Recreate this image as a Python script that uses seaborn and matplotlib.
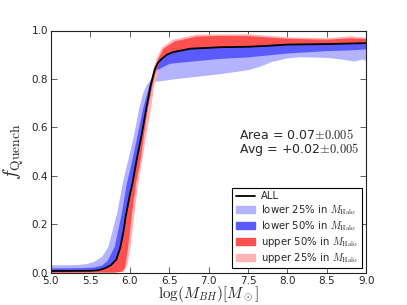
import numpy as np
import pandas as pd
import seaborn as sns
import matplotlib
matplotlib.use('Agg')
import matplotlib.pyplot as plt
from matplotlib.patches import Patch
from matplotlib.lines import Line2D

# ALL sample (black line)
all_x = [5.0, 5.5, 5.6, 5.69, 5.76, 5.83, 5.88, 5.92, 5.95, 6.0, 6.035, 6.09, 6.15, 6.21,
         6.266, 6.32, 6.36, 6.405, 6.47, 6.55, 6.77, 7.15, 7.5, 7.75, 8.0, 8.5, 9.0]
all_y = [0.008, 0.009, 0.011, 0.02, 0.032, 0.055, 0.105, 0.17, 0.235, 0.32, 0.37, 0.47, 0.568, 0.678,
         0.774, 0.842, 0.868, 0.883, 0.9, 0.911, 0.925, 0.931, 0.933, 0.937, 0.942, 0.944, 0.948]

# lower 25% in M_Halo (light blue band): upper/left edge, lower/right edge
lo25_top_x = [5.0, 5.3, 5.45, 5.55, 5.65, 5.73, 5.84, 5.92, 6.0, 6.055, 6.12, 6.17, 6.215, 6.3, 6.36,
              6.42, 6.55, 6.77, 7.15, 7.5, 8.0, 8.5, 9.0]
lo25_top_y = [0.032, 0.032, 0.036, 0.046, 0.066, 0.108, 0.246, 0.383, 0.49, 0.568, 0.678, 0.74, 0.774, 0.81, 0.85,
              0.886, 0.911, 0.925, 0.931, 0.933, 0.942, 0.944, 0.948]
lo25_bot_x = [5.0, 5.6, 5.7, 5.8, 5.88, 5.95, 6.035, 6.15, 6.22, 6.3, 6.6, 7.15, 7.5, 7.65,
              7.8, 8.0, 8.16, 8.5, 8.7, 8.85, 8.95, 9.0]
lo25_bot_y = [0.012, 0.012, 0.018, 0.045, 0.1, 0.23, 0.365, 0.56, 0.7, 0.787, 0.8, 0.82, 0.836, 0.85,
              0.87, 0.885, 0.89, 0.887, 0.88, 0.872, 0.88, 0.875]

# lower 50% in M_Halo (blue band)
lo50_top_x = [5.0, 5.4, 5.55, 5.65, 5.72, 5.81, 5.9, 5.965, 6.03, 6.1, 6.17, 6.25, 6.3, 6.36, 6.405,
              6.47, 6.55, 6.77, 7.15, 7.5, 7.75, 8.0, 8.5, 9.0]
lo50_top_y = [0.019, 0.02, 0.023, 0.031, 0.05, 0.108, 0.246, 0.37, 0.46, 0.568, 0.678, 0.774, 0.83, 0.868, 0.883,
              0.9, 0.911, 0.925, 0.931, 0.933, 0.937, 0.942, 0.944, 0.948]
lo50_bot_x = [5.0, 5.6, 5.7, 5.8, 5.88, 5.95, 6.035, 6.15, 6.21, 6.266, 6.3, 6.34, 6.51, 7.15, 7.5,
              7.75, 8.0, 8.5, 8.8, 9.0]
lo50_bot_y = [0.005, 0.006, 0.014, 0.038, 0.095, 0.225, 0.36, 0.56, 0.67, 0.768, 0.81, 0.835, 0.863, 0.883, 0.889,
              0.897, 0.905, 0.915, 0.918, 0.922]

# upper 50% in M_Halo (red band)
up50_top_x = [5.0, 5.5, 5.6, 5.69, 5.76, 5.83, 5.88, 5.92, 5.95, 6.0, 6.035, 6.09, 6.15, 6.21, 6.266,
              6.32, 6.36, 6.43, 6.57, 6.85, 7.15, 7.5, 8.0, 8.5, 8.8, 9.0]
up50_top_y = [0.008, 0.009, 0.011, 0.02, 0.032, 0.055, 0.105, 0.17, 0.235, 0.32, 0.37, 0.47, 0.568, 0.678, 0.774,
              0.842, 0.883, 0.925, 0.955, 0.975, 0.978, 0.977, 0.966, 0.962, 0.968, 0.965]
up50_bot_x = [5.0, 5.5, 5.8, 5.9, 5.94, 5.98, 6.03, 6.08, 6.14, 6.18, 6.23, 6.29, 6.33, 6.38, 6.43,
              6.47, 6.55, 6.77, 7.15, 7.5, 7.75, 8.0, 8.5, 9.0]
up50_bot_y = [0.001, 0.002, 0.002, 0.005, 0.02, 0.108, 0.246, 0.37, 0.47, 0.568, 0.678, 0.774, 0.83, 0.87, 0.89,
              0.9, 0.911, 0.925, 0.931, 0.933, 0.937, 0.942, 0.944, 0.948]

# upper 25% in M_Halo (light red band)
up25_top_x = [5.0, 5.6, 5.76, 5.88, 5.95, 6.035, 6.15, 6.266, 6.3, 6.34, 6.41, 6.55, 6.85, 7.5, 8.0,
              8.5, 8.8, 9.0]
up25_top_y = [0.008, 0.011, 0.032, 0.105, 0.235, 0.37, 0.568, 0.774, 0.84, 0.885, 0.93, 0.962, 0.983, 0.985, 0.972,
              0.968, 0.976, 0.97]
up25_bot_x = [5.0, 5.8, 5.92, 5.97, 6.01, 6.06, 6.11, 6.16, 6.21, 6.27, 6.31, 6.36, 6.42, 6.5, 7.0,
              8.0, 9.0]
up25_bot_y = [0.0, 0.0, 0.005, 0.03, 0.108, 0.246, 0.37, 0.47, 0.568, 0.678, 0.774, 0.83, 0.875, 0.9, 0.927,
              0.942, 0.948]

labels = ['ALL',
          r'lower 25% in $M_{\rm Halo}$',
          r'lower 50% in $M_{\rm Halo}$',
          r'upper 50% in $M_{\rm Halo}$',
          r'upper 25% in $M_{\rm Halo}$']
colors = {'lo25': '#b3b3ff', 'lo50': '#5a5aff', 'up50': '#ff5050', 'up25': '#ffb3b3'}

sns.set_style('ticks')
plt.rcParams['font.family'] = ['DejaVu Sans']
plt.rcParams['mathtext.fontset'] = 'cm'
plt.rcParams['xtick.direction'] = 'in'
plt.rcParams['ytick.direction'] = 'in'
plt.rcParams['xtick.top'] = True
plt.rcParams['ytick.right'] = True

fig, ax = plt.subplots(figsize=(4.07, 3.05), dpi=100)
fig.subplots_adjust(left=0.125, right=0.9, bottom=0.105, top=0.9)


def band(tx, ty, bx, by, c):
    px = list(tx) + list(bx)[::-1]
    py = list(ty) + list(by)[::-1]
    ax.fill(px, py, color=c, lw=0)


band(lo25_top_x, lo25_top_y, lo25_bot_x, lo25_bot_y, colors['lo25'])
band(up25_top_x, up25_top_y, up25_bot_x, up25_bot_y, colors['up25'])
band(lo50_top_x, lo50_top_y, lo50_bot_x, lo50_bot_y, colors['lo50'])
band(up50_top_x, up50_top_y, up50_bot_x, up50_bot_y, colors['up50'])

df = pd.DataFrame({'x': all_x, 'y': all_y})
sns.lineplot(data=df, x='x', y='y', color='black', lw=1.3, ax=ax)

ax.set_xlim(5.0, 9.0)
ax.set_ylim(0.0, 1.0)
ax.set_xticks(np.arange(5.0, 9.01, 0.5))
ax.set_yticks(np.arange(0.0, 1.01, 0.2))
ax.set_xticklabels(['%.1f' % v for v in np.arange(5.0, 9.01, 0.5)])
ax.set_yticklabels(['%.1f' % v for v in np.arange(0.0, 1.01, 0.2)])
ax.tick_params(labelsize=7.5, length=4, width=0.6, color='#444444', pad=2)
for s in ax.spines.values():
    s.set_linewidth(0.8)
    s.set_color('#222222')

ax.set_xlabel(r'$\log(M_{BH}) [M_\odot]$', fontsize=11, labelpad=-1)
ax.set_ylabel(r'$f_{\rm Quench}$', fontsize=14, labelpad=4)

ax.text(7.38, 0.535, 'Area = 0.07$\\pm0.005$\nAvg = +0.02$\\pm0.005$', fontsize=9,
        ha='left', va='center', linespacing=0.9)

handles = [Line2D([0], [0], color='black', lw=1.3),
           Patch(color=colors['lo25']),
           Patch(color=colors['lo50']),
           Patch(color=colors['up50']),
           Patch(color=colors['up25'])]
leg = ax.legend(handles, labels, loc='lower right', fontsize=7.3, frameon=True, fancybox=False,
                framealpha=1, edgecolor='black', borderaxespad=0.45, handlelength=1.9,
                handletextpad=0.6, labelspacing=0.2, borderpad=0.35)
leg.get_frame().set_linewidth(0.8)

fig.savefig('out.png', dpi=100)
